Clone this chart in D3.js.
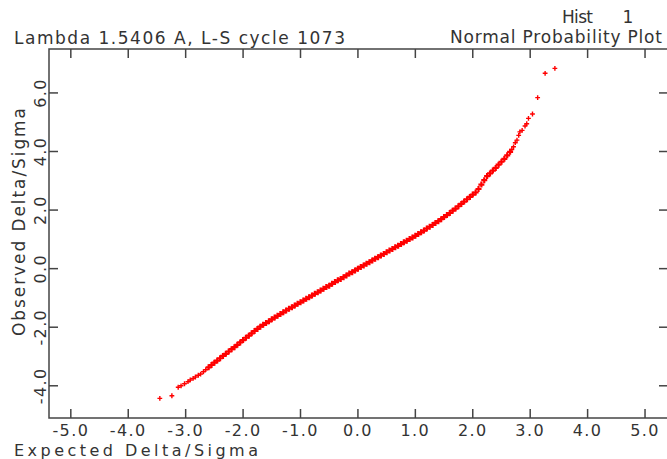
<!DOCTYPE html>
<html>
<head>
<meta charset="utf-8">
<script src="https://cdn.jsdelivr.net/npm/d3@7"></script>
<style>
  body { margin: 0; background: #fff; }
  svg { display: block; }
  text { font-family: "DejaVu Sans", sans-serif; fill: #333; }
</style>
</head>
<body>
<div id="chart"></div>
<script>
// Normal probability plot
const xTicks = [-5, -4, -3, -2, -1, 0, 1, 2, 3, 4, 5];
const yTicks = [-4, -2, 0, 2, 4, 6];

// sparse lower tail
const lowTail = [
  [-3.45, -4.43], [-3.24, -4.34], [-3.13, -4.05], [-3.08, -4.00], [-3.02, -3.93],
  [-2.96, -3.86], [-2.92, -3.80], [-2.87, -3.75], [-2.83, -3.70], [-2.78, -3.64],
  [-2.74, -3.60], [-2.69, -3.52], [-2.65, -3.45]
];

// dense central band
const expected = [
  -2.60, -2.55, -2.50, -2.45, -2.40, -2.35, -2.30, -2.25, -2.20, -2.15, -2.10, -2.05,
  -2.00, -1.95, -1.90, -1.85, -1.80, -1.75, -1.70, -1.65, -1.60, -1.55, -1.50, -1.45,
  -1.40, -1.35, -1.30, -1.25, -1.20, -1.15, -1.10, -1.05, -1.00, -0.95, -0.90, -0.85,
  -0.80, -0.75, -0.70, -0.65, -0.60, -0.55, -0.50, -0.45, -0.40, -0.35, -0.30, -0.25,
  -0.20, -0.15, -0.10, -0.05, 0.00, 0.05, 0.10, 0.15, 0.20, 0.25, 0.30, 0.35,
  0.40, 0.45, 0.50, 0.55, 0.60, 0.65, 0.70, 0.75, 0.80, 0.85, 0.90, 0.95,
  1.00, 1.05, 1.10, 1.15, 1.20, 1.25, 1.30, 1.35, 1.40, 1.45, 1.50, 1.55,
  1.60, 1.65, 1.70, 1.75, 1.80, 1.85, 1.90, 1.95, 2.00, 2.05, 2.10, 2.15,
  2.20, 2.25, 2.30, 2.35, 2.40, 2.45, 2.50, 2.55, 2.60, 2.65
];
const observed = [
  -3.37, -3.29, -3.21, -3.14, -3.06, -2.98, -2.91, -2.83, -2.75, -2.68, -2.60, -2.52,
  -2.44, -2.36, -2.29, -2.21, -2.13, -2.06, -1.98, -1.92, -1.86, -1.80, -1.73, -1.67,
  -1.61, -1.55, -1.49, -1.43, -1.37, -1.32, -1.26, -1.20, -1.15, -1.09, -1.03, -0.98,
  -0.92, -0.86, -0.81, -0.75, -0.69, -0.63, -0.58, -0.52, -0.46, -0.40, -0.35, -0.29,
  -0.23, -0.17, -0.12, -0.06, 0.00, 0.06, 0.11, 0.17, 0.22, 0.28, 0.34, 0.39,
  0.45, 0.50, 0.56, 0.62, 0.67, 0.73, 0.78, 0.84, 0.90, 0.95, 1.01, 1.06,
  1.12, 1.18, 1.24, 1.30, 1.37, 1.43, 1.49, 1.56, 1.62, 1.69, 1.76, 1.83,
  1.90, 1.98, 2.05, 2.13, 2.21, 2.29, 2.37, 2.45, 2.53, 2.60, 2.72, 2.87,
  3.02, 3.16, 3.25, 3.35, 3.44, 3.55, 3.65, 3.75, 3.87, 3.99
];

// sparse upper tail
const highTail = [
  [2.68, 4.07], [2.71, 4.16], [2.74, 4.30], [2.77, 4.39], [2.80, 4.55], [2.82, 4.67],
  [2.86, 4.72], [2.91, 4.87], [2.94, 4.95], [2.97, 5.13], [3.04, 5.28], [3.13, 5.84],
  [3.26, 6.67], [3.43, 6.84]
];

const width = 667, height = 459;
const plot = { left: 49, right: 668, top: 49, bottom: 418 };

const svg = d3.select('#chart').append('svg')
  .attr('width', width)
  .attr('height', height);

const x = d3.scaleLinear().domain([-5.38, 5.4]).range([plot.left, plot.right]);
const y = d3.scaleLinear().domain([-5.1, 7.5]).range([plot.bottom, plot.top]);

const band = expected.map((e, i) => [e, observed[i]]);

// red crosses, bigger where the band is dense
function crosses(data, s, w) {
  svg.append('g')
    .selectAll('path')
    .data(data)
    .enter().append('path')
    .attr('d', d => {
      const px = x(d[0]), py = y(d[1]);
      return `M${px - s},${py}H${px + s}M${px},${py - s}V${py + s}`;
    })
    .attr('stroke', '#f00')
    .attr('stroke-width', w)
    .attr('fill', 'none');
}
crosses(lowTail, 2.4, 1.4);
crosses(band, 3, 2.2);
crosses(highTail, 2.4, 1.4);

// frame
svg.append('rect')
  .attr('x', plot.left).attr('y', plot.top)
  .attr('width', plot.right - plot.left).attr('height', plot.bottom - plot.top)
  .attr('fill', 'none').attr('stroke', '#444').attr('stroke-width', 1.5);

// inward ticks
const tickLen = 9;
const axes = svg.append('g').attr('stroke', '#444').attr('stroke-width', 1.5);
axes.selectAll('.xb').data(xTicks).enter().append('line')
  .attr('x1', d => x(d)).attr('x2', d => x(d))
  .attr('y1', plot.bottom).attr('y2', plot.bottom - tickLen);
axes.selectAll('.xt').data(xTicks).enter().append('line')
  .attr('x1', d => x(d)).attr('x2', d => x(d))
  .attr('y1', plot.top).attr('y2', plot.top + tickLen);
axes.selectAll('.yl').data(yTicks).enter().append('line')
  .attr('y1', d => y(d)).attr('y2', d => y(d))
  .attr('x1', plot.left).attr('x2', plot.left + tickLen);
axes.selectAll('.yr').data(yTicks).enter().append('line')
  .attr('y1', d => y(d)).attr('y2', d => y(d))
  .attr('x1', plot.right).attr('x2', plot.right - tickLen);

// tick labels
svg.append('g').selectAll('text')
  .data(xTicks).enter().append('text')
  .attr('x', d => x(d)).attr('y', 436)
  .attr('text-anchor', 'middle')
  .attr('font-size', 16).attr('letter-spacing', 1.4)
  .text(d => d.toFixed(1));

svg.append('g').selectAll('text')
  .data(yTicks).enter().append('text')
  .attr('transform', d => `translate(46,${y(d)}) rotate(-90)`)
  .attr('text-anchor', 'middle')
  .attr('font-size', 16).attr('letter-spacing', 1.4)
  .text(d => d.toFixed(1));

// titles
svg.append('text').attr('x', 14).attr('y', 44)
  .attr('font-size', 17).attr('textLength', 331).attr('lengthAdjust', 'spacing')
  .text('Lambda 1.5406 A, L-S cycle 1073');
svg.append('text').attr('x', 450).attr('y', 43)
  .attr('font-size', 17).attr('textLength', 212).attr('lengthAdjust', 'spacing')
  .text('Normal Probability Plot');
svg.append('text').attr('x', 562).attr('y', 23)
  .attr('font-size', 17).attr('textLength', 31).attr('lengthAdjust', 'spacing')
  .text('Hist');
svg.append('text').attr('x', 628).attr('y', 23)
  .attr('font-size', 17).attr('text-anchor', 'middle')
  .text('1');

// axis labels
svg.append('text').attr('x', 14).attr('y', 456)
  .attr('font-size', 16).attr('textLength', 244).attr('lengthAdjust', 'spacing')
  .text('Expected Delta/Sigma');
svg.append('text')
  .attr('transform', 'translate(25,336) rotate(-90)')
  .attr('font-size', 17).attr('textLength', 228).attr('lengthAdjust', 'spacing')
  .text('Observed Delta/Sigma');
</script>
</body>
</html>
